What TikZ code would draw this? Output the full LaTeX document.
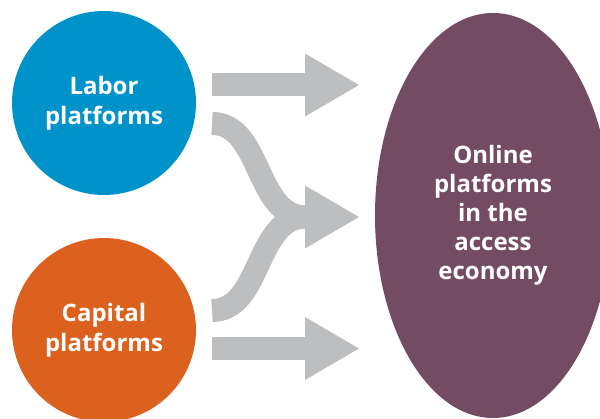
\documentclass[tikz,border=0pt]{standalone}
\usepackage{fontspec}
\setmainfont{Open Sans}
\usetikzlibrary{shapes.geometric,arrows.meta}
\definecolor{laborblue}{RGB}{0,147,201}
\definecolor{capitalorange}{RGB}{220,96,30}
\definecolor{accesspurple}{RGB}{115,75,99}
\definecolor{arrowgray}{RGB}{189,190,192}
\tikzset{
  lbl/.style={text=white, font=\bfseries\fontsize{24}{30}\selectfont, align=center},
  platformcircle/.style={circle, minimum size=184pt, inner sep=0pt, lbl},
  bigarrow/.style={draw=arrowgray, line width=23pt,
    -{Triangle[length=54pt, width=63pt, line width=0pt]}},
  band/.style={draw=arrowgray, line width=23pt}
}
\begin{document}
\begin{tikzpicture}[x=1pt, y=-1pt]
\useasboundingbox (0,0) rectangle (600,419);
\node[platformcircle, fill=laborblue] (labor) at (104,103) {Labor\\platforms};
\node[platformcircle, fill=capitalorange] (capital) at (104,330) {Capital\\platforms};
\node[ellipse, fill=accesspurple, minimum width=236pt, minimum height=405pt, inner sep=0pt, lbl,
      font=\bfseries\fontsize{24}{29}\selectfont] (access) at (493,215.5)
      {Online\\platforms\\in the\\access\\economy};
% arrow end points
\coordinate (a1s) at (212,85);
\coordinate (a1e) at (359,85);
\coordinate (b1s) at (212,123.5);
\coordinate (b2s) at (212,310.5);
\coordinate (bm) at (306,217);
\coordinate (be) at (359,217);
\coordinate (c1s) at (212,348.5);
\coordinate (c1e) at (359,348.5);
\draw[band] (b1s) .. controls (262,123.5) and (255,217) .. (bm);
\draw[band] (b2s) .. controls (262,310.5) and (255,217) .. (bm);
\draw[bigarrow] (a1s) -- (a1e);
\draw[bigarrow] (bm) ++(-2,0) -- (be);
\draw[bigarrow] (c1s) -- (c1e);
\end{tikzpicture}
\end{document}
